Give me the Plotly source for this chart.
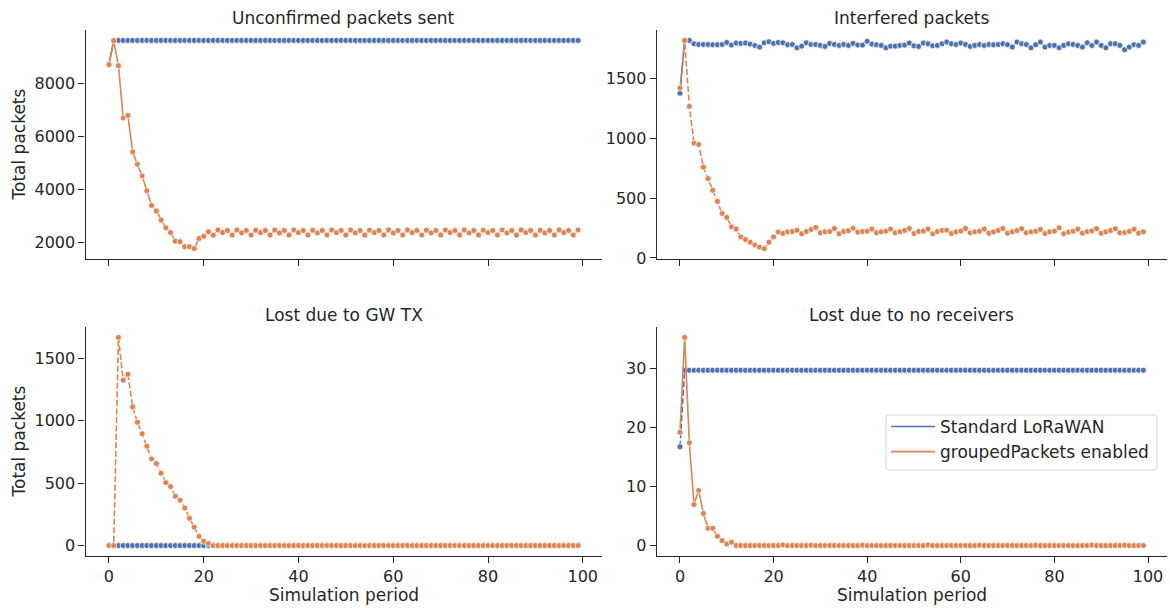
import plotly.graph_objects as go

W, H = 1170, 608
BLUE = "#4c72b0"
ORANGE = "#dd8452"
INK = "#262626"
FONT = "DejaVu Sans"

periods = list(range(100))

series_names = ["Standard LoRaWAN", "groupedPackets enabled"]
panel_titles = ["Unconfirmed packets sent", "Interfered packets",
                "Lost due to GW TX", "Lost due to no receivers"]
x_ticks = [0, 20, 40, 60, 80, 100]
y_ticks = [[2000, 4000, 6000, 8000], [0, 500, 1000, 1500],
           [0, 500, 1000, 1500], [0, 10, 20, 30]]

# ---- Unconfirmed packets sent ----
unconf_std = [8700] + [9600] * 99
unconf_grp = [
    8690, 9590, 8650, 6690, 6780, 5410, 4950, 4510, 3950, 3400,
    3190, 2850, 2560, 2380, 2060, 2040, 1850, 1850, 1780, 2160,
    2240, 2410, 2280, 2480, 2380, 2460, 2290, 2480, 2370, 2460,
    2290, 2470, 2380, 2460, 2290, 2480, 2370, 2460, 2290, 2480,
    2380, 2460, 2290, 2470, 2370, 2460, 2290, 2480, 2380, 2460,
    2290, 2480, 2370, 2460, 2290, 2470, 2380, 2460, 2290, 2480,
    2370, 2460, 2290, 2480, 2380, 2460, 2290, 2470, 2370, 2460,
    2290, 2480, 2380, 2460, 2290, 2480, 2370, 2460, 2290, 2470,
    2380, 2460, 2290, 2480, 2370, 2460, 2290, 2480, 2380, 2460,
    2290, 2470, 2370, 2460, 2290, 2480, 2380, 2460, 2290, 2480,
]

# ---- Interfered packets ----
interf_std = [
    1378, 1820, 1820, 1792, 1786, 1786, 1786, 1784, 1784, 1786,
    1803, 1781, 1798, 1795, 1798, 1789, 1778, 1764, 1800, 1809,
    1795, 1803, 1800, 1784, 1786, 1758, 1772, 1800, 1786, 1786,
    1778, 1770, 1795, 1786, 1778, 1786, 1778, 1795, 1781, 1781,
    1812, 1789, 1784, 1778, 1758, 1772, 1772, 1778, 1781, 1798,
    1775, 1770, 1798, 1792, 1775, 1778, 1792, 1806, 1792, 1786,
    1798, 1786, 1770, 1778, 1786, 1778, 1786, 1784, 1786, 1792,
    1784, 1764, 1806, 1792, 1786, 1758, 1784, 1806, 1764, 1778,
    1778, 1758, 1778, 1792, 1786, 1778, 1764, 1800, 1778, 1806,
    1778, 1758, 1792, 1792, 1778, 1742, 1764, 1784, 1778, 1806,
]
interf_grp = [
    1422, 1820, 1268, 960, 949, 759, 664, 566, 473, 372,
    339, 260, 241, 176, 154, 132, 109, 90, 78, 132,
    176, 216, 204, 218, 221, 232, 202, 221, 238, 255,
    210, 218, 221, 246, 202, 221, 227, 249, 216, 221,
    224, 241, 210, 218, 224, 241, 210, 218, 230, 246,
    204, 221, 224, 241, 202, 221, 230, 232, 205, 218,
    225, 246, 210, 218, 224, 241, 206, 218, 230, 246,
    206, 218, 228, 244, 210, 218, 224, 238, 204, 218,
    224, 252, 202, 216, 224, 241, 207, 220, 226, 245,
    206, 218, 230, 244, 210, 212, 222, 240, 206, 218,
]

# ---- Lost due to GW TX ----
gwtx_std = [0] * 100
gwtx_grp = [
    0, 0, 1669, 1326, 1374, 1112, 989, 896, 797, 695,
    658, 580, 505, 473, 396, 364, 302, 219, 147, 75,
    35, 16, 0, 0, 0, 0, 0, 0, 0, 0,
    0, 0, 0, 0, 0, 0, 0, 0, 0, 0,
    0, 0, 0, 0, 0, 0, 0, 0, 0, 0,
    0, 0, 0, 0, 0, 0, 0, 0, 0, 0,
    0, 0, 0, 0, 0, 0, 0, 0, 0, 0,
    0, 0, 0, 0, 0, 0, 0, 0, 0, 0,
    0, 0, 0, 0, 0, 0, 0, 0, 0, 0,
    0, 0, 0, 0, 0, 0, 0, 0, 0, 0,
]

# ---- Lost due to no receivers ----
norx_std = [16.75] + [29.7] * 99
norx_grp = [
    19.2, 35.26, 17.4, 6.96, 9.34, 5.43, 2.94, 2.94, 1.58, 0.85,
    0.28, 0.57, 0.0, 0.0, 0.0, 0.0, 0.0, 0.0, 0.0, 0.0,
    0.0, 0.0, 0.1, 0.0, 0.0, 0.0, 0.0, 0.0, 0.05, 0.0,
    0.0, 0.0, 0.0, 0.0, 0.0, 0.0, 0.0, 0.0, 0.0, 0.05,
    0.0, 0.0, 0.0, 0.0, 0.0, 0.0, 0.0, 0.0, 0.0, 0.0,
    0.0, 0.0, 0.0, 0.1, 0.0, 0.0, 0.0, 0.0, 0.0, 0.0,
    0.0, 0.0, 0.0, 0.0, 0.05, 0.0, 0.0, 0.0, 0.0, 0.0,
    0.0, 0.0, 0.0, 0.0, 0.0, 0.0, 0.05, 0.0, 0.0, 0.0,
    0.0, 0.0, 0.0, 0.0, 0.0, 0.0, 0.0, 0.0, 0.1, 0.0,
    0.0, 0.0, 0.0, 0.0, 0.0, 0.05, 0.0, 0.0, 0.0, 0.0,
]

panels = [
    (unconf_std, unconf_grp, "solid", "solid"),
    (interf_std, interf_grp, "solid", "6px,2.5px"),
    (gwtx_std, gwtx_grp, "solid", "6px,2.5px"),
    (norx_std, norx_grp, "6px,2.5px", "solid"),
]

# pixel layout of the four axes boxes
col_px = [(85.5, 601.5), (656.8, 1166.5)]
row_px = [(30, 259), (327, 556)]

def xdom(c):
    return [col_px[c][0] / W, col_px[c][1] / W]

def ydom(r):
    return [1 - row_px[r][1] / H, 1 - row_px[r][0] / H]

fig = go.Figure()
layout = dict(
    width=W, height=H,
    margin=dict(l=0, r=0, t=0, b=0),
    paper_bgcolor="white", plot_bgcolor="white",
    font=dict(family=FONT, size=16, color=INK),
    showlegend=True,
)

def pad_range(vals):
    lo, hi = min(vals), max(vals)
    span = hi - lo
    return [lo - 0.05 * span, hi + 0.05 * span]

xr = pad_range(periods)
annotations = []
for i, (s_std, s_grp, dash_std, dash_grp) in enumerate(panels):
    r, c = divmod(i, 2)
    k = "" if i == 0 else str(i + 1)
    fig.add_trace(go.Scatter(
        x=periods, y=s_std, mode="lines+markers", xaxis="x" + k, yaxis="y" + k,
        line=dict(color=BLUE, width=1.6, dash=dash_std),
        marker=dict(color=BLUE, size=6, line=dict(color="white", width=0.75)),
        showlegend=False, name=series_names[0]))
    fig.add_trace(go.Scatter(
        x=periods, y=s_grp, mode="lines+markers", xaxis="x" + k, yaxis="y" + k,
        line=dict(color=ORANGE, width=1.6, dash=dash_grp),
        marker=dict(color=ORANGE, size=6, line=dict(color="white", width=0.75)),
        showlegend=False, name=series_names[1]))
    axis_common = dict(
        showline=True, linecolor=INK, linewidth=1.25, mirror=False,
        ticks="outside", ticklen=6, tickwidth=1.25, tickcolor=INK,
        showgrid=False, zeroline=False, automargin=False,
        tickfont=dict(family=FONT, size=16, color=INK),
    )
    layout["xaxis" + k] = dict(
        axis_common, domain=xdom(c), anchor="y" + k, range=xr,
        tickvals=x_ticks, showticklabels=(r == 1))
    layout["yaxis" + k] = dict(
        axis_common, domain=ydom(r), anchor="x" + k,
        range=pad_range(list(s_std) + list(s_grp)),
        tickvals=y_ticks[i])
    cx = (col_px[c][0] + col_px[c][1]) / 2 / W
    annotations.append(dict(
        text=panel_titles[i], x=cx, y=1 - (row_px[r][0] - 12) / H,
        xref="paper", yref="paper", xanchor="center", yanchor="middle",
        showarrow=False, font=dict(family=FONT, size=17, color=INK)))
    if c == 0:
        annotations.append(dict(
            text="Total packets", x=18 / W,
            y=1 - (row_px[r][0] + row_px[r][1]) / 2 / H,
            xref="paper", yref="paper", xanchor="center", yanchor="middle",
            textangle=-90, showarrow=False,
            font=dict(family=FONT, size=17, color=INK)))
    if r == 1:
        annotations.append(dict(
            text="Simulation period", x=cx, y=1 - 595 / H,
            xref="paper", yref="paper", xanchor="center", yanchor="middle",
            showarrow=False, font=dict(family=FONT, size=17, color=INK)))

# legend entries (line only, like the reference legend)
for name, col in zip(series_names, [BLUE, ORANGE]):
    fig.add_trace(go.Scatter(x=[None], y=[None], mode="lines", name=name,
                             xaxis="x4", yaxis="y4",
                             line=dict(color=col, width=1.6)))

# rounded legend frame (matplotlib style)
x0, x1 = 886 / W, 1157 / W
y0, y1 = 1 - 470 / H, 1 - 415 / H
rx, ry = 3 / W, 3 / H
frame = (f"M {x0+rx},{y1} L {x1-rx},{y1} Q {x1},{y1} {x1},{y1-ry} "
         f"L {x1},{y0+ry} Q {x1},{y0} {x1-rx},{y0} L {x0+rx},{y0} "
         f"Q {x0},{y0} {x0},{y0+ry} L {x0},{y1-ry} Q {x0},{y1} {x0+rx},{y1} Z")
layout["shapes"] = [dict(type="path", path=frame, xref="paper", yref="paper",
                         line=dict(color="#d6d6d6", width=1),
                         fillcolor="white", layer="above")]

layout["annotations"] = annotations
layout["legend"] = dict(
    x=886 / W, y=1 - 409 / H, xanchor="left", yanchor="top",
    bgcolor="rgba(0,0,0,0)", borderwidth=0,
    font=dict(family=FONT, size=17, color=INK),
    itemwidth=44, tracegroupgap=0,
)
fig.update_layout(**layout)
fig.write_html("out.html")
